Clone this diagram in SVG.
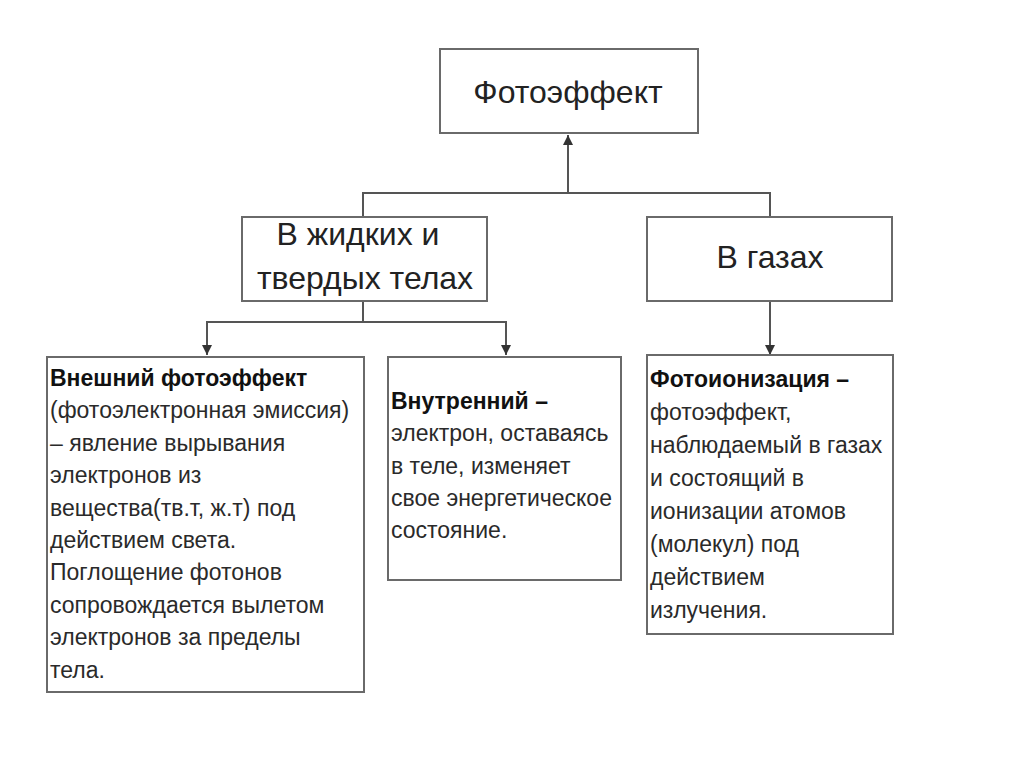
<svg xmlns="http://www.w3.org/2000/svg" width="1024" height="767" viewBox="0 0 1024 767">
<style>
.box{fill:#fff;stroke:#6a6a6a;stroke-width:2}
.big{font-family:"Liberation Sans",Arial,sans-serif;font-size:32px;fill:#222;text-anchor:middle}
.body{font-family:"Liberation Sans",Arial,sans-serif;font-size:23px;fill:#2a2a2a}
.b{font-weight:bold;fill:#111}
.ln{fill:none;stroke:#555;stroke-width:2}
</style>
<defs>
<marker id="ah" viewBox="0 0 10 10" refX="10" refY="5" markerWidth="5" markerHeight="5" orient="auto" markerUnits="strokeWidth">
<path d="M0,0 L10,5 L0,10 z" fill="#333"/>
</marker>
</defs>
<rect width="1024" height="767" fill="#fff"/>
<g id="connectors">
<path class="ln" d="M568,193 V135" marker-end="url(#ah)"/>
<path class="ln" d="M363,217 V193 H770 V217"/>
<path class="ln" d="M363,301 V322 H207 V355" marker-end="url(#ah)"/>
<path class="ln" d="M363,322 H506 V355" marker-end="url(#ah)"/>
<path class="ln" d="M770,301 V355" marker-end="url(#ah)"/>
</g>
<g id="photoeffect">
<rect class="box" x="440" y="49" width="258" height="84"/>
<text class="big" x="568" y="103">Фотоэффект</text>
</g>
<g id="solids">
<rect class="box" x="242" y="217" width="245" height="84"/>
<text class="big" x="358" y="245">В жидких и</text>
<text class="big" x="365" y="289">твердых телах</text>
</g>
<g id="gases">
<rect class="box" x="647" y="217" width="245" height="84"/>
<text class="big" x="770" y="268">В газах</text>
</g>
<g id="external">
<rect class="box" x="47" y="357" width="317" height="335"/>
<text class="body" x="50" y="386"><tspan class="b">Внешний фотоэффект</tspan>
<tspan x="50" dy="32.4">(фотоэлектронная эмиссия)</tspan>
<tspan x="50" dy="32.4">– явление вырывания</tspan>
<tspan x="50" dy="32.4">электронов из</tspan>
<tspan x="50" dy="32.4">вещества(тв.т, ж.т) под</tspan>
<tspan x="50" dy="32.4">действием света.</tspan>
<tspan x="50" dy="32.4">Поглощение фотонов</tspan>
<tspan x="50" dy="32.4">сопровождается вылетом</tspan>
<tspan x="50" dy="32.4">электронов за пределы</tspan>
<tspan x="50" dy="32.4">тела.</tspan></text>
</g>
<g id="internal">
<rect class="box" x="388" y="357" width="233" height="223"/>
<text class="body" x="391" y="409"><tspan class="b">Внутренний –</tspan>
<tspan x="391" dy="32.3">электрон, оставаясь</tspan>
<tspan x="391" dy="32.3">в теле, изменяет</tspan>
<tspan x="391" dy="32.3">свое энергетическое</tspan>
<tspan x="391" dy="32.3">состояние.</tspan></text>
</g>
<g id="photoionization">
<rect class="box" x="647" y="355" width="246" height="279"/>
<text class="body" x="650" y="387"><tspan class="b">Фотоионизация –</tspan>
<tspan x="650" dy="33">фотоэффект,</tspan>
<tspan x="650" dy="33">наблюдаемый в газах</tspan>
<tspan x="650" dy="33">и состоящий в</tspan>
<tspan x="650" dy="33">ионизации атомов</tspan>
<tspan x="650" dy="33">(молекул) под</tspan>
<tspan x="650" dy="33">действием</tspan>
<tspan x="650" dy="33">излучения.</tspan></text>
</g>
</svg>
